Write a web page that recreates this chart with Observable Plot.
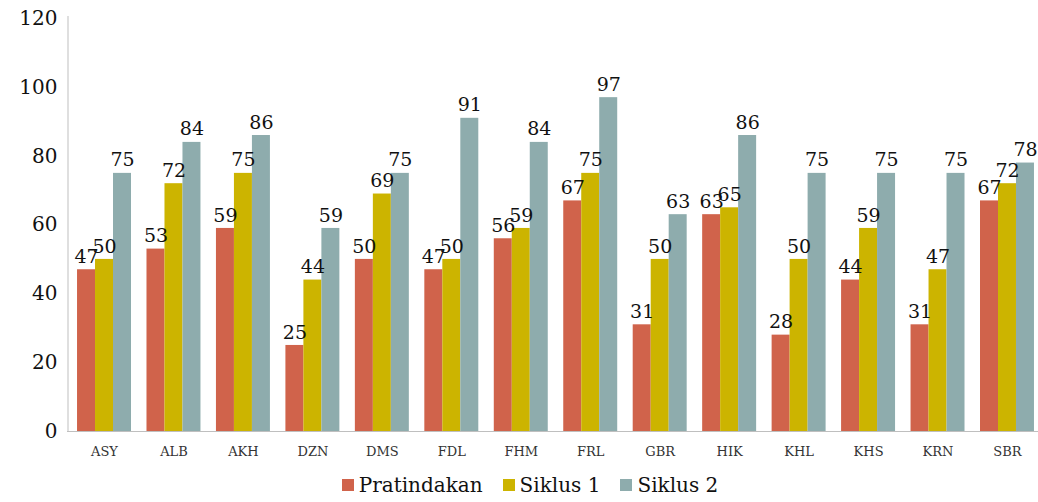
<!DOCTYPE html>
<html>
<head>
<meta charset="utf-8">
<script src="https://cdn.jsdelivr.net/npm/d3@7"></script>
<script src="https://cdn.jsdelivr.net/npm/@observablehq/plot@0.6"></script>
<style>
  html, body { margin: 0; background: #fff; overflow: hidden; width: 1038px; }
  #chart { width: 1038px; overflow: hidden; }
  #legend { display: flex; justify-content: center; align-items: center; gap: 20px; font-family: "DejaVu Serif", serif; font-size: 20px; color: #111; height: 34px; margin-left: 22px; width: 1016px; }
  #legend span.sw { display: inline-block; width: 12px; height: 12px; margin-right: 5px; }
  #legend .item { display: flex; align-items: center; }
</style>
</head>
<body>
<div id="chart"></div>
<div id="legend"></div>
<script>
const categories = ["ASY","ALB","AKH","DZN","DMS","FDL","FHM","FRL","GBR","HIK","KHL","KHS","KRN","SBR"];
const series = ["Pratindakan","Siklus 1","Siklus 2"];
const pratindakan = [47,53,59,25,50,47,56,67,31,63,28,44,31,67];
const siklus1 = [50,72,75,44,69,50,59,75,50,65,50,59,47,72];
const siklus2 = [75,84,86,59,75,91,84,97,63,86,75,75,75,78];
const yTicks = [0,20,40,60,80,100,120];
const colors = ["#d0634b","#ccb400","#8eacad"];

const values = [pratindakan, siklus1, siklus2];
const data = [];
categories.forEach((c, i) => series.forEach((s, j) => data.push({category: c, series: s, value: values[j][i]})));

const W = 1043, H = 468, ML = 68, MR = 0, MT = 18, MB = 37;
const plot = Plot.plot({
  width: W, height: H,
  marginLeft: ML, marginRight: MR, marginTop: MT, marginBottom: MB,
  style: {fontFamily: "'DejaVu Serif', serif", background: "#fff", overflow: "visible", maxWidth: "none"},
  fx: {domain: categories, round: false, paddingInner: 0.223, paddingOuter: 0.13, label: null, tickSize: 0, tickPadding: 15},
  x: {domain: series, axis: null, padding: 0, round: false},
  y: {domain: [0, 120], ticks: yTicks, label: null, tickSize: 0, tickPadding: 20},
  color: {domain: series, range: colors},
  marks: [
    Plot.barY(data, {fx: "category", x: "series", y: "value", fill: "series"}),
    Plot.ruleY([0], {stroke: "#bfbfbf", insetLeft: -10, insetRight: -10}),
    Plot.text(data, {fx: "category", x: "series", y: "value", text: d => String(d.value), dy: -13, fontSize: 19, fill: "#111", fontFamily: "'DejaVu Serif', serif"})
  ]
});
const svg = d3.select(plot);
svg.style("max-width", "none");
svg.selectAll("g[aria-label='y-axis tick label']").attr("font-size", 20).attr("fill", "#111").attr("font-family", "'DejaVu Serif', serif");
svg.selectAll("g[aria-label='fx-axis tick label']").attr("font-size", 13).attr("fill", "#333").attr("font-family", "'DejaVu Serif', serif");
const y = plot.scale("y");
svg.append("line")
  .attr("x1", ML).attr("x2", ML)
  .attr("y1", y.apply(120) - 2).attr("y2", y.apply(0))
  .attr("stroke", "#bfbfbf");
document.getElementById("chart").appendChild(plot);

const legend = d3.select("#legend");
series.forEach((s, i) => {
  const it = legend.append("div").attr("class", "item");
  it.append("span").attr("class", "sw").style("background", colors[i]);
  it.append("span").text(s);
});
</script>
</body>
</html>
